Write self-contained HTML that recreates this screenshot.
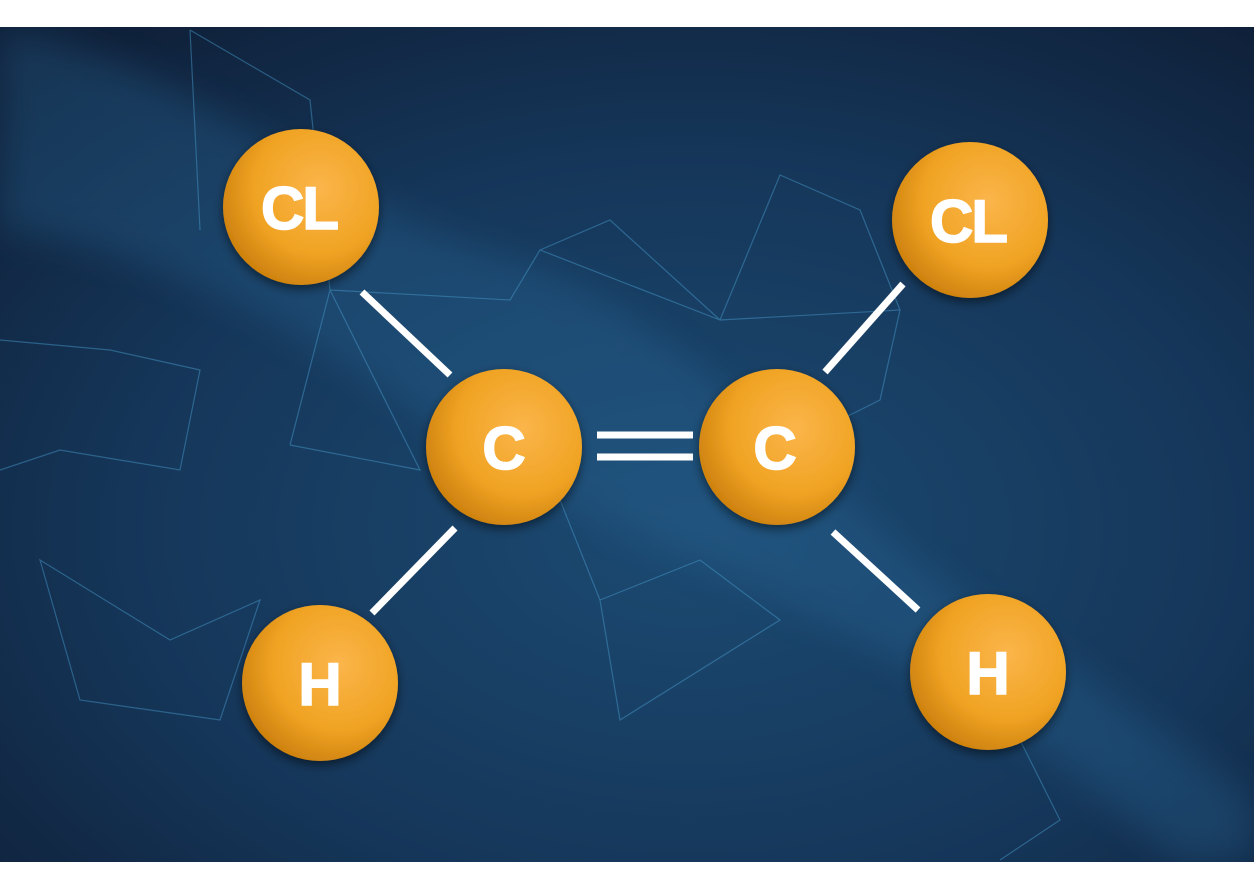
<!DOCTYPE html><html><head><style>
body{margin:0;width:1254px;height:890px;background:#fff;overflow:hidden;font-family:"Liberation Sans",sans-serif}
</style></head><body>
<svg width="1254" height="890" style="position:absolute;left:0;top:0">
<defs>
<radialGradient id="bg" cx="0.55" cy="0.6" r="0.75">
<stop offset="0" stop-color="#1c4a72"/><stop offset="0.6" stop-color="#153659"/><stop offset="1" stop-color="#0f2039"/>
</radialGradient>
<radialGradient id="ball" cx="0.62" cy="0.38" r="0.7">
<stop offset="0" stop-color="#fbb54a"/><stop offset="0.6" stop-color="#f0a323"/><stop offset="1" stop-color="#c97d0c"/>
</radialGradient>
<filter id="sh"><feDropShadow dx="0" dy="4" stdDeviation="5" flood-color="#000" flood-opacity="0.5"/></filter>
<filter id="bl"><feGaussianBlur stdDeviation="18"/></filter>
<clipPath id="cp"><rect x="0" y="27" width="1254" height="835"/></clipPath>
</defs>
<rect x="0" y="27" width="1254" height="835" fill="url(#bg)"/>
<g clip-path="url(#cp)">
<path d="M0 30 C200 60 300 200 520 260 C700 320 800 500 1000 620 C1100 680 1200 760 1254 800 L1254 862 L1180 862 C1000 700 800 600 600 520 C400 420 250 260 0 230 Z" fill="#2a6c9c" opacity="0.3" filter="url(#bl)"/>
</g>
<g stroke="#4a9fd0" stroke-width="1.2" fill="none" opacity="0.45">
<path d="M290 445 L330 290 L510 300 L540 250 L720 320 L780 175 L860 210 L900 310 L720 320 L610 220 L540 250"/>
<path d="M330 290 L420 470 L290 445"/>
<path d="M600 600 L700 560 L780 620 L620 720 L600 600 L560 500"/>
<path d="M900 310 L880 400 L820 430"/>
<path d="M0 340 L110 350 L200 370 L180 470 L60 450 L0 470"/>
<path d="M40 560 L170 640 L260 600 L220 720 L80 700 Z"/>
<path d="M190 30 L200 230 M190 30 L310 100 L330 290"/>
<path d="M1000 700 L1060 820 L1000 860"/>
</g>
<g stroke="#fff" stroke-width="7" stroke-linecap="butt">
<line x1="362" y1="292" x2="450" y2="375"/>
<line x1="455" y1="528" x2="372" y2="613"/>
<line x1="825" y1="372" x2="903" y2="284"/>
<line x1="833" y1="532" x2="918" y2="610"/>
<line x1="597" y1="435" x2="693" y2="435"/>
<line x1="597" y1="457" x2="693" y2="457"/>
</g>
<g filter="url(#sh)" fill="url(#ball)">
<circle cx="301" cy="207" r="78"/>
<circle cx="504" cy="447" r="78"/>
<circle cx="777" cy="447" r="78"/>
<circle cx="970" cy="220" r="78"/>
<circle cx="320" cy="683" r="78"/>
<circle cx="988" cy="672" r="78"/>
</g>
<g fill="#fff" stroke="#fff" stroke-width="1.5" font-family="Liberation Sans, sans-serif" font-weight="bold" font-size="60" text-anchor="middle">
<text x="299" y="229" letter-spacing="-2">CL</text>
<text x="504" y="469">C</text>
<text x="775" y="469">C</text>
<text x="968" y="242" letter-spacing="-2">CL</text>
<text x="320" y="705">H</text>
<text x="988" y="694">H</text>
</g>
</svg>
</body></html>
